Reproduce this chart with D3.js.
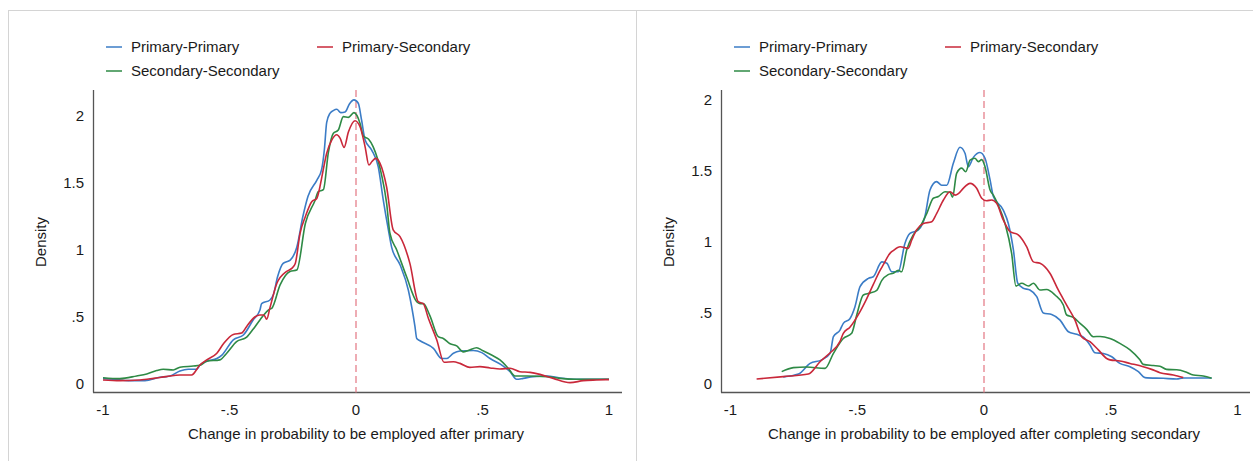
<!DOCTYPE html>
<html>
<head>
<meta charset="utf-8">
<script src="https://cdn.jsdelivr.net/npm/d3@7"></script>
<style>
  html, body { margin: 0; padding: 0; background: #fff; }
  svg { display: block; font-family: "Liberation Sans", Arial, Helvetica, sans-serif; }
</style>
</head>
<body>
<svg id="chart" width="1253" height="461"></svg>
<script>
// Kernel density estimates of the change in employment probability, by couple type.
const seriesNames = ["Primary-Primary", "Primary-Secondary", "Secondary-Secondary"];
const seriesColors = ["#3b7cc6", "#c9283a", "#2e8a45"];

const xTicks = [-1, -0.5, 0, 0.5, 1];
const xTickLabels = ["-1", "-.5", "0", ".5", "1"];
const yTicks = [0, 0.5, 1, 1.5, 2];
const yTickLabels = ["0", ".5", "1", "1.5", "2"];

const xTitles = [
  "Change in probability to be employed after primary",
  "Change in probability to be employed after completing secondary"
];

// Panel 1: after primary — [change, density]
const primaryPrimaryA = [[-1.0,0.04],[-0.95,0.035],[-0.90,0.025],[-0.834,0.025],[-0.775,0.05],[-0.735,0.06],[-0.696,0.097],[-0.663,0.11],[-0.63,0.11],[-0.617,0.14],[-0.59,0.17],[-0.55,0.19],[-0.53,0.216],[-0.485,0.33],[-0.445,0.366],[-0.406,0.48],[-0.38,0.55],[-0.373,0.60],[-0.34,0.627],[-0.326,0.67],[-0.31,0.80],[-0.288,0.90],[-0.26,0.925],[-0.234,1.02],[-0.21,1.25],[-0.19,1.40],[-0.155,1.52],[-0.136,1.60],[-0.125,1.75],[-0.116,1.95],[-0.103,2.02],[-0.09,2.04],[-0.076,2.05],[-0.06,2.025],[-0.043,2.03],[-0.026,2.09],[-0.008,2.12],[0.009,2.095],[0.022,1.97],[0.036,1.82],[0.062,1.746],[0.088,1.62],[0.108,1.37],[0.128,1.15],[0.141,1.02],[0.174,0.89],[0.207,0.70],[0.233,0.43],[0.24,0.34],[0.253,0.323],[0.306,0.266],[0.339,0.19],[0.358,0.19],[0.385,0.23],[0.411,0.246],[0.464,0.25],[0.497,0.234],[0.53,0.19],[0.582,0.134],[0.609,0.092],[0.635,0.035],[0.661,0.042],[0.70,0.055],[0.754,0.06],[0.806,0.045],[0.872,0.035],[1.0,0.035]];
const primarySecondaryA = [[-1.0,0.03],[-0.933,0.025],[-0.854,0.03],[-0.80,0.042],[-0.75,0.055],[-0.696,0.067],[-0.65,0.067],[-0.617,0.142],[-0.59,0.18],[-0.55,0.23],[-0.524,0.30],[-0.485,0.37],[-0.452,0.38],[-0.432,0.43],[-0.40,0.50],[-0.38,0.515],[-0.364,0.515],[-0.353,0.483],[-0.34,0.57],[-0.313,0.75],[-0.274,0.84],[-0.254,0.863],[-0.24,0.90],[-0.221,1.125],[-0.2,1.25],[-0.175,1.36],[-0.155,1.385],[-0.145,1.45],[-0.136,1.535],[-0.116,1.72],[-0.096,1.82],[-0.076,1.86],[-0.063,1.835],[-0.047,1.766],[-0.03,1.88],[-0.004,1.965],[0.016,1.92],[0.036,1.77],[0.051,1.634],[0.063,1.66],[0.078,1.684],[0.095,1.647],[0.121,1.47],[0.147,1.15],[0.174,1.10],[0.213,0.90],[0.246,0.614],[0.266,0.60],[0.286,0.49],[0.319,0.33],[0.348,0.162],[0.385,0.166],[0.411,0.154],[0.45,0.124],[0.49,0.13],[0.53,0.12],[0.569,0.112],[0.609,0.117],[0.648,0.092],[0.688,0.087],[0.727,0.072],[0.78,0.042],[0.846,0.01],[0.898,0.025],[0.95,0.03],[1.0,0.033]];
const secondarySecondaryA = [[-1.0,0.047],[-0.933,0.04],[-0.867,0.06],[-0.827,0.075],[-0.788,0.10],[-0.762,0.11],[-0.722,0.105],[-0.696,0.125],[-0.643,0.134],[-0.617,0.14],[-0.59,0.17],[-0.538,0.18],[-0.511,0.23],[-0.472,0.316],[-0.432,0.35],[-0.406,0.41],[-0.379,0.48],[-0.34,0.56],[-0.333,0.565],[-0.30,0.74],[-0.261,0.84],[-0.234,0.85],[-0.2,1.20],[-0.162,1.37],[-0.149,1.435],[-0.129,1.45],[-0.109,1.73],[-0.09,1.87],[-0.07,1.895],[-0.05,1.995],[-0.03,1.99],[-0.008,2.025],[0.016,1.945],[0.029,1.85],[0.05,1.826],[0.068,1.77],[0.10,1.57],[0.121,1.35],[0.134,1.125],[0.161,1.0],[0.20,0.80],[0.24,0.614],[0.253,0.60],[0.266,0.60],[0.292,0.51],[0.325,0.353],[0.345,0.34],[0.372,0.30],[0.398,0.285],[0.424,0.24],[0.444,0.25],[0.477,0.27],[0.50,0.25],[0.536,0.216],[0.569,0.18],[0.602,0.117],[0.628,0.06],[0.675,0.06],[0.754,0.055],[0.806,0.042],[0.872,0.035],[1.0,0.035]];

// Panel 2: after completing secondary — [change, density]
const primaryPrimaryB = [[-0.792,0.05],[-0.732,0.07],[-0.686,0.145],[-0.64,0.17],[-0.607,0.216],[-0.594,0.333],[-0.568,0.38],[-0.555,0.427],[-0.529,0.46],[-0.509,0.544],[-0.489,0.685],[-0.456,0.744],[-0.437,0.755],[-0.403,0.86],[-0.383,0.85],[-0.364,0.79],[-0.338,0.79],[-0.312,0.99],[-0.292,1.06],[-0.259,1.085],[-0.233,1.18],[-0.213,1.366],[-0.187,1.425],[-0.167,1.40],[-0.147,1.40],[-0.121,1.554],[-0.095,1.667],[-0.075,1.625],[-0.062,1.53],[-0.042,1.596],[-0.016,1.63],[0.004,1.59],[0.024,1.437],[0.037,1.32],[0.076,1.225],[0.096,1.13],[0.116,0.944],[0.133,0.71],[0.155,0.674],[0.181,0.662],[0.208,0.615],[0.234,0.50],[0.267,0.49],[0.30,0.45],[0.333,0.368],[0.366,0.35],[0.392,0.33],[0.418,0.275],[0.438,0.22],[0.471,0.215],[0.504,0.192],[0.536,0.145],[0.576,0.122],[0.609,0.087],[0.635,0.045],[0.707,0.04],[0.76,0.035],[0.786,0.042],[0.898,0.042]];
const primarySecondaryB = [[-0.897,0.035],[-0.792,0.052],[-0.693,0.07],[-0.647,0.157],[-0.607,0.22],[-0.568,0.30],[-0.555,0.357],[-0.529,0.40],[-0.489,0.51],[-0.463,0.60],[-0.437,0.70],[-0.41,0.80],[-0.397,0.84],[-0.371,0.92],[-0.358,0.94],[-0.331,0.967],[-0.299,0.955],[-0.285,1.014],[-0.266,1.085],[-0.239,1.13],[-0.206,1.143],[-0.187,1.20],[-0.16,1.296],[-0.134,1.354],[-0.114,1.33],[-0.101,1.34],[-0.082,1.378],[-0.055,1.413],[-0.029,1.378],[-0.009,1.308],[0.01,1.29],[0.03,1.296],[0.05,1.272],[0.076,1.155],[0.103,1.073],[0.135,1.05],[0.168,0.967],[0.195,0.86],[0.221,0.85],[0.26,0.78],[0.293,0.662],[0.326,0.556],[0.359,0.45],[0.385,0.333],[0.418,0.298],[0.451,0.24],[0.484,0.18],[0.497,0.17],[0.536,0.162],[0.576,0.145],[0.628,0.122],[0.661,0.103],[0.694,0.08],[0.747,0.063],[0.786,0.045]];
const secondarySecondaryB = [[-0.798,0.087],[-0.752,0.115],[-0.70,0.12],[-0.627,0.11],[-0.594,0.216],[-0.555,0.32],[-0.522,0.357],[-0.502,0.486],[-0.476,0.627],[-0.45,0.64],[-0.423,0.66],[-0.403,0.73],[-0.378,0.77],[-0.358,0.78],[-0.338,0.80],[-0.325,0.79],[-0.305,0.944],[-0.279,1.05],[-0.252,1.108],[-0.226,1.20],[-0.2,1.308],[-0.18,1.32],[-0.154,1.354],[-0.134,1.35],[-0.124,1.315],[-0.108,1.484],[-0.088,1.52],[-0.072,1.495],[-0.055,1.577],[-0.036,1.59],[-0.022,1.566],[-0.009,1.58],[0.004,1.53],[0.024,1.366],[0.037,1.33],[0.056,1.26],[0.083,1.13],[0.109,0.92],[0.126,0.69],[0.149,0.709],[0.175,0.69],[0.195,0.71],[0.221,0.662],[0.247,0.665],[0.28,0.627],[0.313,0.556],[0.326,0.486],[0.352,0.47],[0.379,0.427],[0.405,0.385],[0.431,0.333],[0.458,0.335],[0.497,0.32],[0.536,0.286],[0.576,0.24],[0.615,0.17],[0.628,0.138],[0.668,0.13],[0.694,0.125],[0.72,0.103],[0.76,0.10],[0.793,0.087],[0.826,0.063],[0.865,0.056],[0.898,0.04]];

const panels = [
  { left: 8,   axisX: 93,  xRange: [103, 609],     yTop: 116, series: [primaryPrimaryA, primarySecondaryA, secondarySecondaryA], title: xTitles[0] },
  { left: 636, axisX: 721, xRange: [730.5, 1237.5], yTop: 100, series: [primaryPrimaryB, primarySecondaryB, secondarySecondaryB], title: xTitles[1] }
];

const svg = d3.select("#chart");
const axisColor = "#555";
const textColor = "#1a1a1a";

// outer frames
svg.append("line").attr("x1", 8).attr("x2", 1253).attr("y1", 10.5).attr("y2", 10.5)
  .attr("stroke", "#d4d4d4");
[8.5, 636.5].forEach(x => svg.append("line").attr("x1", x).attr("x2", x)
  .attr("y1", 10).attr("y2", 461).attr("stroke", "#d4d4d4"));

panels.forEach(p => {
  const g = svg.append("g");
  const x = d3.scaleLinear().domain([-1, 1]).range(p.xRange);
  const y = d3.scaleLinear().domain([0, 2]).range([384, p.yTop]);
  const axisY = 392.5;
  const axisRight = p.left + 614;

  // axes lines
  g.append("line").attr("x1", p.axisX + 0.5).attr("x2", p.axisX + 0.5)
    .attr("y1", 90).attr("y2", axisY).attr("stroke", axisColor).attr("stroke-width", 1.3);
  g.append("line").attr("x1", p.axisX).attr("x2", axisRight)
    .attr("y1", axisY).attr("y2", axisY).attr("stroke", axisColor).attr("stroke-width", 1.3);

  // y tick labels
  g.selectAll(".ytl").data(yTicks).join("text")
    .attr("x", p.axisX - 9).attr("y", d => y(d)).attr("dy", "0.36em")
    .attr("text-anchor", "end").attr("font-size", 15).attr("fill", textColor)
    .text((d, i) => yTickLabels[i]);

  // x tick labels
  g.selectAll(".xtl").data(xTicks).join("text")
    .attr("x", d => x(d)).attr("y", 414.5)
    .attr("text-anchor", "middle").attr("font-size", 15).attr("fill", textColor)
    .text((d, i) => xTickLabels[i]);

  // axis titles
  g.append("text").attr("x", x(0)).attr("y", 438.5).attr("text-anchor", "middle")
    .attr("font-size", 15).attr("fill", textColor).text(p.title);
  g.append("text").attr("transform", `translate(${p.left + 33},242) rotate(-90)`)
    .attr("text-anchor", "middle").attr("dy", "0.36em")
    .attr("font-size", 15).attr("fill", textColor).text("Density");

  // reference line at zero change
  g.append("line").attr("x1", x(0)).attr("x2", x(0)).attr("y1", 90).attr("y2", axisY)
    .attr("stroke", "#e5808c").attr("stroke-width", 1.3).attr("stroke-dasharray", "7,4");

  // density curves
  const line = d3.line().x(d => x(d[0])).y(d => y(d[1])).curve(d3.curveMonotoneX);
  const order = [0, 2, 1];
  order.forEach(i => {
    g.append("path").datum(p.series[i]).attr("d", line)
      .attr("fill", "none").attr("stroke", seriesColors[i])
      .attr("stroke-width", 1.6).attr("stroke-linejoin", "round");
  });

  // legend
  const legendPos = [
    { lx: p.left + 98,  ly: 47 },
    { lx: p.left + 309, ly: 47 },
    { lx: p.left + 98,  ly: 71 }
  ];
  seriesNames.forEach((name, i) => {
    const lp = legendPos[i];
    g.append("line").attr("x1", lp.lx).attr("x2", lp.lx + 16)
      .attr("y1", lp.ly).attr("y2", lp.ly)
      .attr("stroke", seriesColors[i]).attr("stroke-width", 1.5);
    g.append("text").attr("x", lp.lx + 25).attr("y", lp.ly).attr("dy", "0.36em")
      .attr("font-size", 15).attr("fill", textColor).text(name);
  });
});
</script>
</body>
</html>
